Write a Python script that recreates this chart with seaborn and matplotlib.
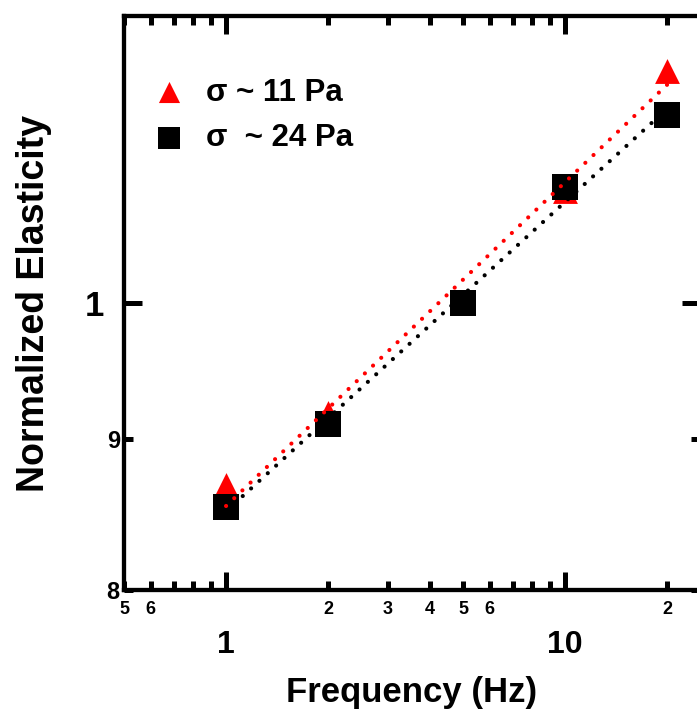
import matplotlib
matplotlib.use("Agg")
import matplotlib.pyplot as plt
import matplotlib.ticker as mticker
import seaborn as sns
import pandas as pd

# values
freq = [1, 2, 5, 10, 20]
elast_11pa = [0.868, 0.918, 1.0, 1.091, 1.198]
elast_24pa = [0.8535, 0.910, 1.0, 1.094, 1.157]

# power-law fit lines (end points)
fit_freq = [1, 20]
fit_11pa = [0.854, 1.185]
fit_24pa = [0.8505, 1.163]

labels = ["σ ~ 11 Pa", "σ  ~ 24 Pa"]

x_major = [1, 10]
x_minor = [0.5, 0.6, 0.7, 0.8, 0.9, 2, 3, 4, 5, 6, 7, 8, 9, 20]
x_minor_labels = {0.5: "5", 0.6: "6", 2: "2", 3: "3", 4: "4", 5: "5", 6: "6", 20: "2"}
y_major = [1]
y_minor = [0.8, 0.9]
y_minor_labels = {0.8: "8", 0.9: "9"}

sns.set_theme(style="ticks")
plt.rcParams['font.family'] = ['Liberation Sans', 'DejaVu Sans']
plt.rcParams['font.weight'] = 'bold'
plt.rcParams['axes.labelweight'] = 'bold'
for key in ['text.color', 'axes.labelcolor', 'xtick.color', 'ytick.color',
            'xtick.labelcolor', 'ytick.labelcolor']:
    plt.rcParams[key] = 'black'

fig = plt.figure(figsize=(6.97, 7.13), dpi=100)
ax = fig.add_axes([124 / 697, 123 / 713, 576 / 697, 574 / 713])

df11 = pd.DataFrame({"f": freq, "e": elast_11pa})
df24 = pd.DataFrame({"f": freq, "e": elast_24pa})

sns.scatterplot(data=df11, x="f", y="e", marker="^", color="#ff0000", s=320,
                linewidth=0, ax=ax, label=labels[0])
sns.scatterplot(data=df24, x="f", y="e", marker="s", color="black", s=350,
                linewidth=0, ax=ax, label=labels[1])

dotted = (0, (0.01, 2.7))
sns.lineplot(x=fit_freq, y=fit_24pa, color="black", linewidth=3.0,
             linestyle=dotted, dash_capstyle="round", ax=ax, legend=False)
sns.lineplot(x=fit_freq, y=fit_11pa, color="#ff0000", linewidth=3.0,
             linestyle=dotted, dash_capstyle="round", ax=ax, legend=False)

ax.set_xscale("log")
ax.set_yscale("log")
ax.set_xlim(0.5, 25)
ax.set_ylim(0.8, 1.25)

ax.xaxis.set_major_locator(mticker.FixedLocator(x_major))
ax.xaxis.set_major_formatter(mticker.FixedFormatter([str(v) for v in x_major]))
ax.xaxis.set_minor_locator(mticker.FixedLocator(x_minor))
ax.xaxis.set_minor_formatter(mticker.FixedFormatter([x_minor_labels.get(v, "") for v in x_minor]))
ax.yaxis.set_major_locator(mticker.FixedLocator(y_major))
ax.yaxis.set_major_formatter(mticker.FixedFormatter(["1"]))
ax.yaxis.set_minor_locator(mticker.FixedLocator(y_minor))
ax.yaxis.set_minor_formatter(mticker.FixedFormatter([y_minor_labels[v] for v in y_minor]))

for s in ax.spines.values():
    s.set_linewidth(3.1)
    s.set_color("black")

ax.tick_params(which="both", direction="in", top=True, right=True, width=3.6, color="black")
ax.tick_params(which="major", length=13)
ax.tick_params(which="minor", length=6.5)
ax.tick_params(axis="x", which="major", labelsize=23, pad=29)
ax.tick_params(axis="x", which="minor", labelsize=13, pad=8)
ax.tick_params(axis="y", which="major", labelsize=25, pad=14)
ax.tick_params(axis="y", which="minor", labelsize=17, pad=3)

ax.set_xlabel("Frequency (Hz)", fontsize=25, fontweight="bold", labelpad=11)
ax.set_ylabel("Normalized Elasticity", fontsize=27, fontweight="bold", labelpad=24)

ax.legend(loc="upper left", bbox_to_anchor=(0.018, 0.92), frameon=False,
          fontsize=22.5, markerscale=0.85, handletextpad=0.6, labelspacing=0.5,
          borderpad=0, handlelength=1.2)

fig.savefig("out.png", dpi=100)
